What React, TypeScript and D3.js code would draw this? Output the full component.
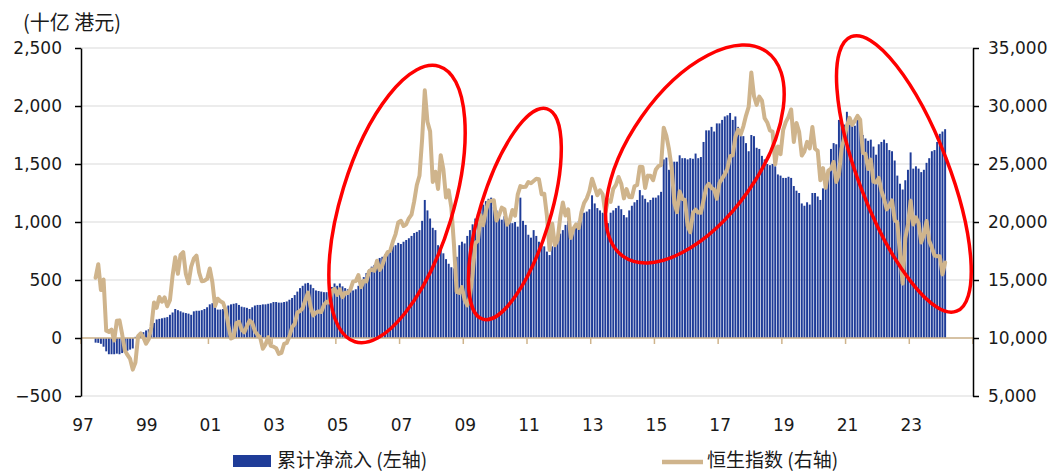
import { useEffect, useRef } from 'react';
import * as d3 from 'd3';

const width = 1057;
const height = 473;

// monthly series, first point = June 1997
const startYear = 1997;
const startMonth = 5; // 0-based (June)

// cumulative net inflow, HK$ bn (left axis)
const netInflow: number[] = [
  -40, -42, -50, -75, -115, -140, -140, // 1997 Jun-Dec
  -140, -135, -140, -130, -120, -110, -100, -90, 10, 15, 25, 50, // 1998
  65, 75, 90, 130, 160, 165, 170, 175, 180, 200, 220, 250, // 1999
  240, 230, 220, 215, 210, 200, 230, 235, 235, 240, 250, 265, // 2000
  290, 300, 265, 245, 245, 250, 260, 280, 290, 295, 300, 285, // 2001
  270, 265, 260, 250, 265, 280, 285, 285, 290, 290, 295, 300, // 2002
  310, 310, 305, 305, 310, 315, 330, 345, 370, 400, 430, 450, // 2003
  470, 475, 460, 430, 410, 405, 400, 395, 395, 410, 440, 470, // 2004
  450, 470, 445, 430, 420, 440, 410, 420, 450, 500, 525, 560, // 2005
  590, 615, 630, 650, 690, 700, 720, 750, 775, 790, 800, 820, // 2006
  810, 830, 845, 860, 880, 905, 915, 930, 1010, 1190, 1100, 1030, // 2007
  950, 930, 800, 780, 730, 680, 640, 610, 600, 700, 800, 830, // 2008
  815, 880, 930, 980, 1030, 1070, 1120, 1150, 1180, 1200, 1210, 1130, // 2009
  1100, 1060, 1020, 1050, 1030, 1000, 990, 1000, 960, 1210, 1010, 975, // 2010
  890, 865, 930, 880, 830, 815, 790, 745, 715, 790, 830, 860, // 2011
  900, 930, 975, 1010, 950, 940, 980, 1010, 1050, 1080, 1090, 1110, // 2012
  1230, 1160, 1120, 1100, 1080, 1040, 990, 1080, 1100, 1120, 1140, 1110, // 2013
  1060, 1040, 1100, 1140, 1170, 1190, 1275, 1230, 1200, 1170, 1190, 1210, // 2014
  1210, 1230, 1260, 1540, 1555, 1450, 1510, 1520, 1520, 1575, 1550, 1550, // 2015
  1540, 1550, 1545, 1590, 1550, 1560, 1690, 1790, 1790, 1820, 1780, 1850, // 2016
  1850, 1880, 1910, 1920, 1940, 1880, 1910, 1820, 1780, 1740, 1680, 1610, // 2017
  1750, 1740, 1640, 1630, 1570, 1540, 1500, 1490, 1500, 1480, 1410, 1400, // 2018
  1380, 1380, 1390, 1380, 1310, 1270, 1250, 1160, 1140, 1170, 1150, 1250, // 2019
  1250, 1220, 1190, 1290, 1390, 1430, 1630, 1680, 1670, 1880, 1850, 1840, // 2020
  1950, 1840, 1830, 1830, 1880, 1810, 1750, 1720, 1700, 1710, 1650, 1580, // 2021
  1670, 1690, 1710, 1680, 1620, 1610, 1530, 1400, 1330, 1280, 1360, 1450, // 2022
  1600, 1460, 1480, 1460, 1430, 1450, 1510, 1550, 1610, 1620, 1690, 1760, // 2023
  1780, 1800, // 2024 Jan-Feb
];

// Hang Seng index, month end (right axis)
const hangSeng: number[] = [
  15197, 16365, 14135, 15049, 10623, 10527, 10723, // 1997 Jun-Dec
  9777, 11480, 11519, 10324, 8952, 8543, 8196, 7275, 7883, 10155, 10402, 10049, // 1998
  9507, 9887, 10942, 13065, 12603, 13532, 13123, 13504, 12733, 13256, 15377, 16962, // 1999
  15532, 17169, 17407, 15520, 14713, 16156, 16841, 17097, 15648, 14895, 14937, 15096, // 2000
  15998, 14788, 12761, 13387, 13174, 13043, 12399, 11090, 9951, 10073, 11280, 11397, // 2001
  10725, 10482, 11033, 11497, 11302, 10598, 10268, 10043, 9072, 9442, 10070, 9321, // 2002
  9258, 9122, 8634, 8717, 9487, 9577, 10134, 10909, 11230, 12190, 12318, 12576, // 2003
  13290, 13908, 12682, 11942, 12198, 12286, 12239, 12850, 13121, 13055, 14060, 14230, // 2004
  13721, 14195, 13516, 13909, 13868, 14201, 14880, 14903, 15429, 14386, 14937, 14876, // 2005
  15753, 15919, 15805, 16661, 15857, 16267, 16971, 17392, 17543, 18324, 18960, 19965, // 2006
  20106, 19652, 19801, 20319, 20635, 21773, 23185, 23984, 27142, 31352, 28643, 27813, // 2007
  23456, 24332, 22849, 25756, 24533, 22102, 22731, 21262, 18016, 13969, 13888, 14387, // 2008
  13278, 12812, 13576, 15521, 18171, 18379, 20573, 19724, 20955, 21752, 21821, 21873, // 2009
  20122, 20608, 21239, 21108, 19765, 20129, 21030, 20537, 22358, 23096, 23008, 23035, // 2010
  23447, 23338, 23528, 23721, 23684, 22398, 22440, 20535, 17592, 19864, 17989, 18434, // 2011
  20390, 21680, 20556, 21094, 18630, 19441, 19796, 19482, 20840, 21642, 22030, 22657, // 2012
  23730, 23020, 22300, 22737, 22392, 20803, 21883, 21731, 22860, 23206, 23881, 23306, // 2013
  22035, 22837, 22151, 22134, 23082, 23191, 24757, 24742, 22933, 23998, 23987, 23605, // 2014
  24507, 24823, 24901, 28133, 27424, 26250, 24636, 21671, 20846, 22640, 21996, 21914, // 2015
  19683, 19112, 20777, 21067, 20815, 20794, 21891, 22977, 23297, 22935, 22790, 22001, // 2016
  23361, 23741, 24112, 24615, 25661, 25765, 27324, 27970, 27554, 28246, 29177, 29919, // 2017
  32887, 30845, 30093, 30808, 30469, 28955, 28583, 27889, 27789, 24980, 26507, 25846, // 2018
  27942, 28633, 29051, 29699, 26901, 28543, 27778, 25725, 26092, 26907, 26346, 28190, // 2019
  26313, 26130, 23603, 24644, 22961, 24427, 24595, 25177, 23459, 24107, 26341, 27231, // 2020
  28284, 28980, 28378, 28725, 29151, 28828, 25961, 25879, 24576, 25377, 23475, 23398, // 2021
  23802, 22713, 21997, 21089, 21415, 21860, 20157, 19954, 17223, 14687, 18597, 19781, // 2022
  21842, 19786, 20400, 19895, 18234, 18916, 20079, 18382, 17810, 17112, 17043, 17047, // 2023
  15485, 16511, // 2024 Jan-Feb
];

const leftTicks = [-500, 0, 500, 1000, 1500, 2000, 2500];
const rightTicks = [5000, 10000, 15000, 20000, 25000, 30000, 35000];
const yearTicks = [1997, 1999, 2001, 2003, 2005, 2007, 2009, 2011, 2013, 2015, 2017, 2019, 2021, 2023, 2025];
const yearLabels = ['97', '99', '01', '03', '05', '07', '09', '11', '13', '15', '17', '19', '21', '23'];

const barLabel = '累计净流入 (左轴)';
const lineLabel = '恒生指数 (右轴)';
const unitLabel = '(十亿 港元)';

// red highlight rings: centre in (year, left-axis value), semi-axes, tilt of the long axis
const highlights = [
  { year: 2006.92, value: 1155, a: 144, b: 56, angle: 73 },
  { year: 2010.62, value: 1069, a: 110, b: 35, angle: 73 },
  { year: 2016.27, value: 1586, a: 125, b: 65, angle: 55 },
  { year: 2022.83, value: 1414, a: 147, b: 45, angle: 111 },
];

const BLUE = '#1f3c98';
const TAN = '#cfb48c';
const NUM_FONT = '"DejaVu Sans", sans-serif';
const CJK_FONT = '"Noto Sans CJK SC", sans-serif';

export default function App() {
  const svgRef = useRef<SVGSVGElement | null>(null);

  useEffect(() => {
    if (!svgRef.current) return;
    const svg = d3.select(svgRef.current);
    svg.selectAll('*').remove();

    const plot = { left: 81, right: 973, top: 48, bottom: 396 };

    const x = d3.scaleLinear().domain([1997, 2025]).range([plot.left, plot.right]);
    const yL = d3.scaleLinear().domain([-500, 2500]).range([plot.bottom, plot.top]);
    const yR = d3.scaleLinear().domain([5000, 35000]).range([plot.bottom, plot.top]);

    const monthStart = (i: number) => startYear + (startMonth + i) / 12;

    // gridlines
    svg.append('g')
      .selectAll('line')
      .data(leftTicks)
      .join('line')
      .attr('x1', plot.left)
      .attr('x2', plot.right)
      .attr('y1', (d) => yL(d))
      .attr('y2', (d) => yL(d))
      .attr('stroke', '#d9d9d9')
      .attr('stroke-width', 1);

    // bars
    svg.append('g')
      .selectAll('rect')
      .data(netInflow)
      .join('rect')
      .attr('x', (_, i) => x(monthStart(i)) + 0.35)
      .attr('width', (_, i) => x(monthStart(i + 1)) - x(monthStart(i)) - 0.7)
      .attr('y', (d) => Math.min(yL(d), yL(0)))
      .attr('height', (d) => Math.abs(yL(d) - yL(0)))
      .attr('fill', BLUE);

    // zero line with year ticks
    const zero = svg.append('g').attr('transform', `translate(0,${yL(0)})`);
    zero.append('line')
      .attr('x1', plot.left)
      .attr('x2', plot.right)
      .attr('stroke', TAN)
      .attr('stroke-width', 1.5);
    zero.selectAll('line.tick')
      .data(yearTicks)
      .join('line')
      .attr('class', 'tick')
      .attr('x1', (d) => x(d))
      .attr('x2', (d) => x(d))
      .attr('y1', 0)
      .attr('y2', 6)
      .attr('stroke', TAN)
      .attr('stroke-width', 1.5);

    // Hang Seng line
    const line = d3.line<number>()
      .x((_, i) => x(monthStart(i) + 1 / 24))
      .y((d) => yR(d))
      .curve(d3.curveLinear);

    svg.append('path')
      .datum(hangSeng)
      .attr('fill', 'none')
      .attr('stroke', TAN)
      .attr('stroke-width', 4)
      .attr('stroke-linejoin', 'round')
      .attr('stroke-linecap', 'round')
      .attr('d', line);

    // left axis
    const leftAxis = svg.append('g')
      .attr('transform', `translate(${plot.left},0)`)
      .call(
        d3.axisLeft(yL)
          .tickValues(leftTicks)
          .tickSize(6)
          .tickSizeOuter(0)
          .tickPadding(13)
          .tickFormat(d3.format(','))
      );

    // right axis
    const rightAxis = svg.append('g')
      .attr('transform', `translate(${plot.right},0)`)
      .call(
        d3.axisRight(yR)
          .tickValues(rightTicks)
          .tickSize(6)
          .tickSizeOuter(0)
          .tickPadding(9)
          .tickFormat(d3.format(','))
      );

    [leftAxis, rightAxis].forEach((ax) => {
      ax.select('.domain').attr('stroke', '#000').attr('stroke-width', 1.5);
      ax.selectAll('.tick line').attr('stroke', '#000').attr('stroke-width', 1.5);
      ax.selectAll('.tick text')
        .attr('font-family', NUM_FONT)
        .attr('font-size', 17)
        .attr('fill', '#1a1a1a');
    });

    // year labels
    svg.append('g')
      .selectAll('text')
      .data(yearLabels)
      .join('text')
      .attr('x', (_, i) => x(yearTicks[i]) + 2)
      .attr('y', 431)
      .attr('text-anchor', 'middle')
      .attr('font-family', NUM_FONT)
      .attr('font-size', 17)
      .attr('fill', '#1a1a1a')
      .text((d) => d);

    // unit label
    svg.append('text')
      .attr('x', 23)
      .attr('y', 30)
      .attr('font-family', CJK_FONT)
      .attr('font-size', 20)
      .attr('fill', '#1a1a1a')
      .text(unitLabel);

    // legend
    const legend = svg.append('g');
    legend.append('rect')
      .attr('x', 233)
      .attr('y', 455)
      .attr('width', 38)
      .attr('height', 12)
      .attr('fill', BLUE);
    legend.append('text')
      .attr('x', 277)
      .attr('y', 467)
      .attr('font-family', CJK_FONT)
      .attr('font-size', 19)
      .attr('fill', '#1a1a1a')
      .text(barLabel);
    legend.append('line')
      .attr('x1', 662)
      .attr('x2', 703)
      .attr('y1', 462)
      .attr('y2', 462)
      .attr('stroke', TAN)
      .attr('stroke-width', 4.5);
    legend.append('text')
      .attr('x', 707)
      .attr('y', 467)
      .attr('font-family', CJK_FONT)
      .attr('font-size', 19)
      .attr('fill', '#1a1a1a')
      .text(lineLabel);

    // red rings
    svg.append('g')
      .selectAll('ellipse')
      .data(highlights)
      .join('ellipse')
      .attr('transform', (d) => `translate(${x(d.year)},${yL(d.value)}) rotate(${-d.angle})`)
      .attr('rx', (d) => d.a)
      .attr('ry', (d) => d.b)
      .attr('fill', 'none')
      .attr('stroke', '#ff0000')
      .attr('stroke-width', 3.5);
  }, []);

  return (
    <svg
      ref={svgRef}
      width={width}
      height={height}
      style={{ position: 'absolute', left: 0, top: 0, background: '#fff' }}
    />
  );
}
